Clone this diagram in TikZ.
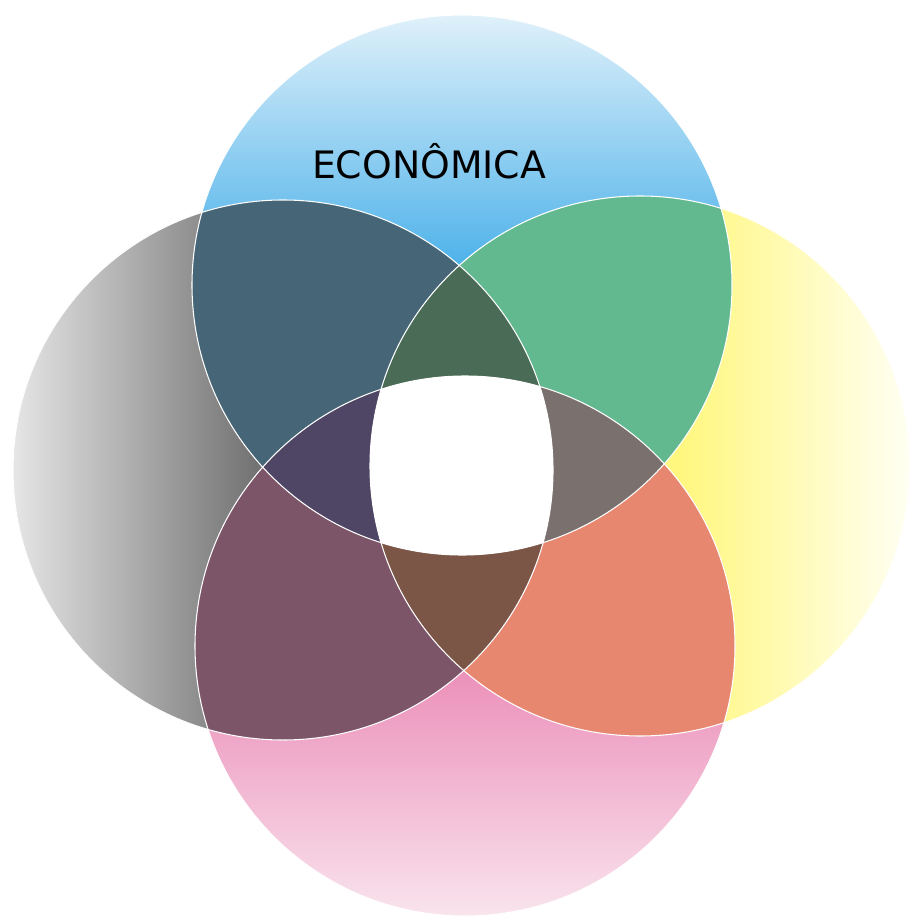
\documentclass[tikz,border=0pt]{standalone}
\usepackage{fontspec}
\newfontfamily\verd{DejaVu Sans}
\definecolor{blueTop}{HTML}{E0F1FA}
\definecolor{blueMid}{HTML}{50B3EA}
\definecolor{pinkTop}{HTML}{EC93BC}
\definecolor{pinkBot}{HTML}{F9E4ED}
\definecolor{yelMid}{HTML}{FFF77E}
\definecolor{yelRight}{HTML}{FFFFF4}
\definecolor{grayLeft}{HTML}{E6E6E6}
\definecolor{grayCen}{HTML}{BDBDBD}
\definecolor{grayMid}{HTML}{707070}
\definecolor{cTL}{HTML}{466677}
\definecolor{cTR}{HTML}{62B98F}
\definecolor{cRB}{HTML}{E8876F}
\definecolor{cBL}{HTML}{7D5568}
\definecolor{cTLR}{HTML}{4A6B55}
\definecolor{cTRB}{HTML}{7A706E}
\definecolor{cLBR}{HTML}{7B5546}
\definecolor{cTLB}{HTML}{4F4665}
\tikzset{edge/.style={draw=white,line width=0.6pt}}
\begin{document}
\begin{tikzpicture}[x=0.02cm,y=-0.02cm]
\useasboundingbox (0,0) rectangle (911,918);
\def\rr{270}
\coordinate (T) at (462,285);
\coordinate (R) at (640,466);
\coordinate (B) at (465,646);
\coordinate (L) at (283,470);
% base circles with gradients
\begin{scope}\clip (T) circle (\rr);
  \fill[blueMid] (150,10) rectangle (780,560);
  \shade[top color=blueTop, bottom color=blueMid] (150,14) rectangle (780,262);
\end{scope}
\begin{scope}\clip (R) circle (\rr);
  \fill[yelMid] (360,190) rectangle (915,740);
  \shade[left color=yelMid, right color=yelRight] (680,190) rectangle (911,740);
\end{scope}
\begin{scope}\clip (B) circle (\rr);
  \fill[pinkTop] (190,370) rectangle (740,920);
  \shade[top color=pinkTop, bottom color=pinkBot] (190,680) rectangle (740,916);
\end{scope}
\begin{scope}\clip (L) circle (\rr);
  \fill[grayMid] (10,195) rectangle (560,745);
  \shade[left color=grayLeft, middle color=grayCen, right color=grayMid] (12,195) rectangle (262,745);
\end{scope}
% pairwise overlaps
\begin{scope}\clip (T) circle (\rr); \fill[cTL] (L) circle (\rr);\end{scope}
\begin{scope}\clip (T) circle (\rr); \fill[cTR] (R) circle (\rr);\end{scope}
\begin{scope}\clip (R) circle (\rr); \fill[cRB] (B) circle (\rr);\end{scope}
\begin{scope}\clip (B) circle (\rr); \fill[cBL] (L) circle (\rr);\end{scope}
% triple overlaps
\begin{scope}\clip (T) circle (\rr); \clip (L) circle (\rr); \fill[cTLR] (R) circle (\rr);\end{scope}
\begin{scope}\clip (T) circle (\rr); \clip (R) circle (\rr); \fill[cTRB] (B) circle (\rr);\end{scope}
\begin{scope}\clip (L) circle (\rr); \clip (B) circle (\rr); \fill[cLBR] (R) circle (\rr);\end{scope}
\begin{scope}\clip (T) circle (\rr); \clip (L) circle (\rr); \fill[cTLB] (B) circle (\rr);\end{scope}
% centre
\begin{scope}\clip (T) circle (\rr); \clip (L) circle (\rr); \clip (R) circle (\rr); \fill[white] (B) circle (\rr);\end{scope}
% edges
\path[edge] (T) circle (\rr);
\path[edge] (R) circle (\rr);
\path[edge] (B) circle (\rr);
\path[edge] (L) circle (\rr);
\node[font=\verd\fontsize{21.5}{25}\selectfont, text=black, inner sep=0pt] (eco) at (429,161) {ECONÔMICA};
\end{tikzpicture}
\end{document}
